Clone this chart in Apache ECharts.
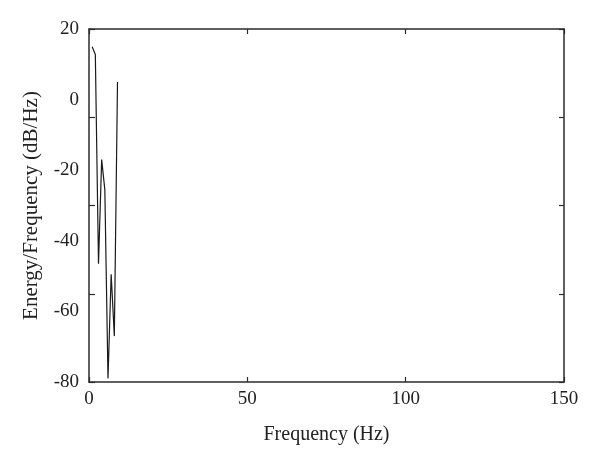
<!DOCTYPE html>
<html>
<head>
<meta charset="utf-8">
<script src="https://cdn.jsdelivr.net/npm/echarts@6/dist/echarts.min.js"></script>
<style>
html,body{margin:0;padding:0;background:#fff;}
#c{width:600px;height:464px;}
</style>
</head>
<body>
<div id="c"></div>
<script>
// Data
var frequencyHz = [1, 2, 3, 4, 5, 6, 7, 8, 9];
var energyDb = [15, 12.8, -46.5, -17, -25.5, -79, -49.5, -67, 5];
var xTickValues = [0, 50, 100, 150];
var yTickValues = [20, 0, -20, -40, -60, -80];

var FONT = '"Liberation Serif", "DejaVu Serif", serif';
var AX = '#2b2b2b';

var chart = echarts.init(document.getElementById('c'), null, {renderer: 'canvas'});
var points = frequencyHz.map(function (f, i) { return [f, energyDb[i]]; });

chart.setOption({
  animation: false,
  backgroundColor: '#ffffff',
  grid: {left: 89, right: 36, top: 29, bottom: 82, containLabel: false},
  xAxis: [
    {
      type: 'value', position: 'bottom', min: xTickValues[0], max: xTickValues[xTickValues.length - 1], interval: 50,
      name: 'Frequency (Hz)', nameLocation: 'middle', nameGap: 43,
      nameTextStyle: {fontFamily: FONT, fontSize: 20, color: '#222'},
      axisLine: {show: true, onZero: false, lineStyle: {color: AX, width: 1.5}},
      axisTick: {show: true, inside: true, length: 5, lineStyle: {color: AX, width: 1.2}},
      axisLabel: {fontFamily: FONT, fontSize: 19, color: '#222', margin: 8},
      splitLine: {show: false}
    },
    {
      type: 'value', position: 'top', min: 0, max: 150, interval: 50,
      axisLine: {show: true, onZero: false, lineStyle: {color: AX, width: 1.5}},
      axisTick: {show: true, inside: true, length: 5, lineStyle: {color: AX, width: 1.2}},
      axisLabel: {show: false},
      splitLine: {show: false}
    }
  ],
  yAxis: [
    {
      type: 'value', position: 'left', min: yTickValues[yTickValues.length - 1], max: yTickValues[0], interval: 20,
      name: 'Energy/Frequency (dB/Hz)', nameLocation: 'middle', nameGap: 47, nameRotate: 90,
      nameTextStyle: {fontFamily: FONT, fontSize: 21, color: '#222'},
      axisLine: {show: true, onZero: false, lineStyle: {color: AX, width: 1.5}},
      axisTick: {show: false},
      axisLabel: {fontFamily: FONT, fontSize: 19, color: '#222', margin: 10},
      splitLine: {show: false}
    },
    {
      type: 'value', position: 'right', min: -80, max: 20, interval: 25,
      axisLine: {show: true, onZero: false, lineStyle: {color: AX, width: 1.5}},
      axisTick: {show: true, inside: true, length: 5, lineStyle: {color: AX, width: 1.2}},
      axisLabel: {show: false},
      splitLine: {show: false}
    },
    {
      type: 'value', position: 'left', offset: 0, min: -80, max: 20, interval: 25,
      axisLine: {show: false, onZero: false},
      axisTick: {show: true, inside: true, length: 6, lineStyle: {color: AX, width: 1.2}},
      axisLabel: {show: false},
      splitLine: {show: false}
    }
  ],
  series: [{
    type: 'line',
    data: points,
    xAxisIndex: 0, yAxisIndex: 0,
    showSymbol: false,
    lineStyle: {color: '#1a1a1a', width: 1.2},
    silent: true
  }]
});
</script>
</body>
</html>
